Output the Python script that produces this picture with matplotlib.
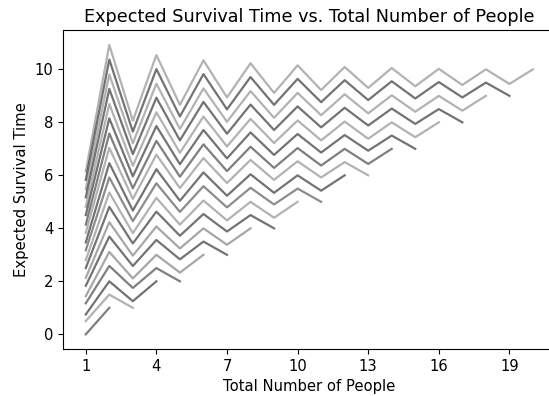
import matplotlib
matplotlib.use("Agg")
import matplotlib.pyplot as plt

# expected survival time per position, one row per line (lines of length 2..20)
survival_times = [
    [0.00, 1.00],
    [0.50, 1.50, 1.00],
    [0.75, 2.00, 1.25, 2.00],
    [1.17, 2.58, 1.75, 2.50, 2.00],
    [1.44, 3.11, 2.11, 3.00, 2.33, 3.00],
    [1.83, 3.69, 2.58, 3.56, 2.83, 3.50, 3.00],
    [2.13, 4.23, 2.97, 4.07, 3.24, 4.00, 3.38, 4.00],
    [2.50, 4.81, 3.43, 4.63, 3.72, 4.54, 3.88, 4.50, 4.00],
    [2.80, 5.35, 3.82, 5.15, 4.14, 5.05, 4.30, 5.00, 4.40, 5.00],
    [3.17, 5.92, 4.27, 5.70, 4.62, 5.59, 4.79, 5.53, 4.90, 5.50, 5.00],
    [3.47, 6.46, 4.67, 6.23, 5.04, 6.11, 5.23, 6.04, 5.34, 6.00, 5.42, 6.00],
    [3.83, 7.04, 5.11, 6.78, 5.52, 6.65, 5.71, 6.58, 5.83, 6.53, 5.92, 6.50, 6.00],
    [4.14, 7.58, 5.51, 7.30, 5.95, 7.17, 6.16, 7.08, 6.28, 7.03, 6.37, 7.00, 6.43, 7.00],
    [4.50, 8.15, 5.96, 7.86, 6.42, 7.71, 6.64, 7.62, 6.77, 7.56, 6.86, 7.52, 6.93, 7.50,
     7.00],
    [4.81, 8.69, 6.36, 8.38, 6.85, 8.22, 7.09, 8.13, 7.22, 8.07, 7.32, 8.03, 7.38, 8.00,
     7.44, 8.00],
    [5.17, 9.26, 6.80, 8.93, 7.32, 8.77, 7.57, 8.67, 7.71, 8.60, 7.81, 8.55, 7.88, 8.52,
     7.94, 8.50, 8.00],
    [5.48, 9.81, 7.21, 9.46, 7.75, 9.28, 8.02, 9.18, 8.17, 9.11, 8.27, 9.06, 8.34, 9.02,
     8.40, 9.00, 8.44, 9.00],
    [5.83, 10.37, 7.65, 10.01, 8.22, 9.82, 8.49, 9.71, 8.66, 9.64, 8.76, 9.59, 8.84, 9.55,
     8.90, 9.52, 8.94, 9.50, 9.00],
    [6.15, 10.92, 8.06, 10.54, 8.66, 10.34, 8.94, 10.23, 9.11, 10.15, 9.22, 10.09, 9.30,
     10.05, 9.36, 10.02, 9.41, 10.00, 9.45, 10.00],
]
x_ticks = [1, 4, 7, 10, 13, 16, 19]

# per-line grey shade (alpha of black), bottom line first
line_alpha = [0.5, 0.3, 0.55, 0.5, 0.35, 0.55, 0.35, 0.55, 0.3, 0.45,
              0.55, 0.3, 0.5, 0.55, 0.3, 0.55, 0.3, 0.55, 0.3]

plt.rcParams["font.size"] = 10.6
plt.rcParams["lines.linewidth"] = 1.6


def main():
    fig = plt.figure(figsize=(5.49, 3.96), dpi=100)
    ax = fig.add_axes([0.1155, 0.1192, 0.896, 0.8038])
    for vals, a in zip(survival_times, line_alpha):
        ax.plot(range(1, len(vals) + 1), vals, color="k", alpha=a)
    ax.set_xticks(x_ticks)
    ax.set_title("Expected Survival Time vs. Total Number of People")
    ax.set_xlabel("Total Number of People")
    ax.set_ylabel("Expected Survival Time")
    fig.savefig("out.png", dpi=100)


if __name__ == "__main__":
    main()
